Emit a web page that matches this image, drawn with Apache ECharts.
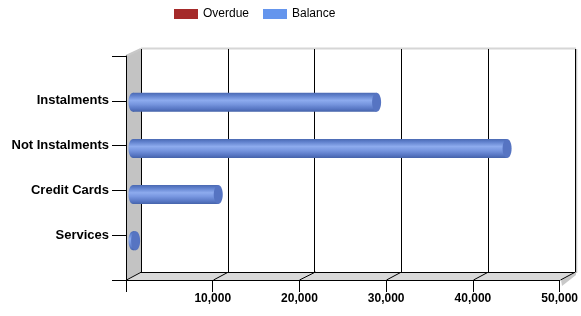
<!DOCTYPE html>
<html lang="en">
<head>
<meta charset="UTF-8">
<title>Balance</title>
<script src="https://cdn.jsdelivr.net/npm/echarts@6/dist/echarts.min.js"></script>
<style>
    html, body { margin: 0; padding: 0; background: #fff; }
    #chart { width: 581px; height: 316px; }
</style>
</head>
<body>
<div id="chart"></div>
<script>
var categories = ['Instalments', 'Not Instalments', 'Credit Cards', 'Services'];
var overdue = [0, 0, 0, 0];
var balance = [28000, 43000, 9800, 300];
var xMin = 0, xMax = 50000, xStep = 10000;

// blank slots at both ends so the categories sit on the inner ticks
var yCats = [''].concat(categories, ['']);

var FONT = '"Liberation Sans", Arial, sans-serif';
var FRONT = {left: 126, top: 56, width: 435, height: 224};
var BACK = {left: 141, top: 49, width: 434, height: 223};
var BARS = {left: 133, top: 56, width: 435, height: 231};

function toPairs(arr) {
    return arr.map(function (v, i) { return [v, i + 1]; });
}

function cylinder(capColor) {
    return function (params, api) {
        var v = api.value(0);
        if (!v) return null;
        var s = api.coord([0, api.value(1)]);
        var e = api.coord([v, api.value(1)]);
        var h = 19, rx = 4.5;
        var grad = new echarts.graphic.LinearGradient(0, 0, 0, 1, [
            {offset: 0, color: '#4a69b2'},
            {offset: 0.15, color: '#5f80cc'},
            {offset: 0.4, color: '#8dabee'},
            {offset: 0.6, color: '#7897e0'},
            {offset: 0.85, color: '#5877c4'},
            {offset: 1, color: '#4563aa'}
        ]);
        return {
            type: 'group',
            children: [
                {type: 'ellipse', shape: {cx: s[0], cy: s[1], rx: rx, ry: h / 2}, style: {fill: grad}},
                {type: 'rect', shape: {x: s[0], y: s[1] - h / 2, width: e[0] - s[0], height: h}, style: {fill: grad}},
                {type: 'ellipse', shape: {cx: e[0], cy: e[1], rx: rx, ry: h / 2}, style: {fill: capColor}}
            ]
        };
    };
}

var chart = echarts.init(document.getElementById('chart'));

var option = {
    animation: false,
    backgroundColor: '#fff',
    textStyle: {fontFamily: FONT},
    legend: {
        left: 169,
        top: 3,
        icon: 'rect',
        itemWidth: 24,
        itemHeight: 10,
        itemGap: 14,
        textStyle: {fontFamily: FONT, fontSize: 12, color: '#000'},
        data: ['Overdue', 'Balance']
    },
    grid: [
        {left: BACK.left, top: BACK.top, width: BACK.width, height: BACK.height},
        {left: FRONT.left, top: FRONT.top, width: FRONT.width, height: FRONT.height},
        {left: BARS.left, top: BARS.top, width: BARS.width, height: BARS.height}
    ],
    xAxis: [
        {
            gridIndex: 0, type: 'value', min: xMin, max: xMax, interval: xStep,
            axisLine: {show: false}, axisTick: {show: false}, axisLabel: {show: false},
            splitLine: {show: true, lineStyle: {color: '#000', width: 1}}
        },
        {
            gridIndex: 1, type: 'value', min: xMin, max: xMax, interval: xStep,
            axisLine: {show: true, lineStyle: {color: '#000'}},
            axisTick: {show: true, length: 12, lineStyle: {color: '#000'}},
            axisLabel: {
                margin: 13, fontFamily: FONT, fontSize: 12, fontWeight: 'bold', color: '#000',
                formatter: function (v) { return v === 0 ? '' : v.toLocaleString('en-US'); }
            },
            splitLine: {show: false}
        },
        {gridIndex: 2, type: 'value', min: xMin, max: xMax, show: false}
    ],
    yAxis: [
        {gridIndex: 0, type: 'category', data: yCats, boundaryGap: false, show: false, inverse: true},
        {
            gridIndex: 1, type: 'category', data: yCats, boundaryGap: false, inverse: true,
            axisLine: {show: true, lineStyle: {color: '#000'}},
            axisTick: {show: true, length: 14, interval: 0, lineStyle: {color: '#000'}},
            axisLabel: {interval: 0, margin: 17, fontFamily: FONT, fontSize: 13, fontWeight: 'bold', color: '#000'},
            splitLine: {show: false}
        },
        {gridIndex: 2, type: 'category', data: yCats, boundaryGap: false, show: false, inverse: true}
    ],
    series: [
        {
            name: 'Overdue', type: 'custom', xAxisIndex: 2, yAxisIndex: 2,
            itemStyle: {color: '#A52A2A'},
            renderItem: cylinder('#8a2222'),
            data: toPairs(overdue), z: 5
        },
        {
            name: 'Balance', type: 'custom', xAxisIndex: 2, yAxisIndex: 2,
            itemStyle: {color: '#6495ED'},
            renderItem: cylinder('#5674c2'),
            data: toPairs(balance), z: 5
        }
    ]
};
chart.setOption(option);

// 3D walls: left side wall and floor, placed from the two grids
function px(axisIndex, v) {
    return chart.convertToPixel({xAxisIndex: axisIndex}, v);
}
var fTop = FRONT.top, fBot = FRONT.top + FRONT.height;
var bTop = BACK.top, bBot = BACK.top + BACK.height;
var fL = FRONT.left, fR = FRONT.left + FRONT.width;
var bL = BACK.left, bR = BACK.left + BACK.width;

var els = [
    {type: 'polygon', z: -10, shape: {points: [[fL, fTop], [bL, bTop], [bL, bBot], [fL, fBot]]},
        style: {fill: '#c3c3c3'}},
    {type: 'polygon', z: -10, shape: {points: [[bL, bBot], [bR, bBot], [fR, fBot], [fL, fBot]]},
        style: {fill: '#d9d9d9'}},
    {type: 'polygon', z: -10, shape: {points: [[fR, fBot], [bR + 1, bBot], [bR + 1, bBot + 3], [fR + 1, fBot + 6]]},
        style: {fill: '#c8c8c8'}},
    {type: 'line', z: -5, shape: {x1: fL, y1: fTop, x2: bL, y2: bTop}, style: {stroke: '#c8c8c8', lineWidth: 2}},
    {type: 'line', z: -5, shape: {x1: bL, y1: bTop - 0.5, x2: bR + 1, y2: bTop - 0.5}, style: {stroke: '#d6d6d6', lineWidth: 2}},
    {type: 'line', z: -5, shape: {x1: bR + 1.5, y1: bTop, x2: bR + 1.5, y2: bBot + 1}, style: {stroke: '#c4c4c4', lineWidth: 1.5}},
    {type: 'line', z: -5, shape: {x1: bL, y1: bBot + 0.5, x2: bR, y2: bBot + 0.5}, style: {stroke: '#000', lineWidth: 1}},
    {type: 'line', z: -5, shape: {x1: bL + 0.5, y1: bTop, x2: bL + 0.5, y2: bBot}, style: {stroke: '#000', lineWidth: 1}}
];
for (var t = xMin; t <= xMax; t += xStep) {
    var xb = Math.round(px(0, t)) + 0.5, xf = Math.round(px(1, t)) + 0.5;
    els.push({type: 'line', z: -5, shape: {x1: xb, y1: bBot, x2: xf, y2: fBot}, style: {stroke: '#000', lineWidth: 1}});
}
chart.setOption({graphic: {elements: els}});
</script>
</body>
</html>
